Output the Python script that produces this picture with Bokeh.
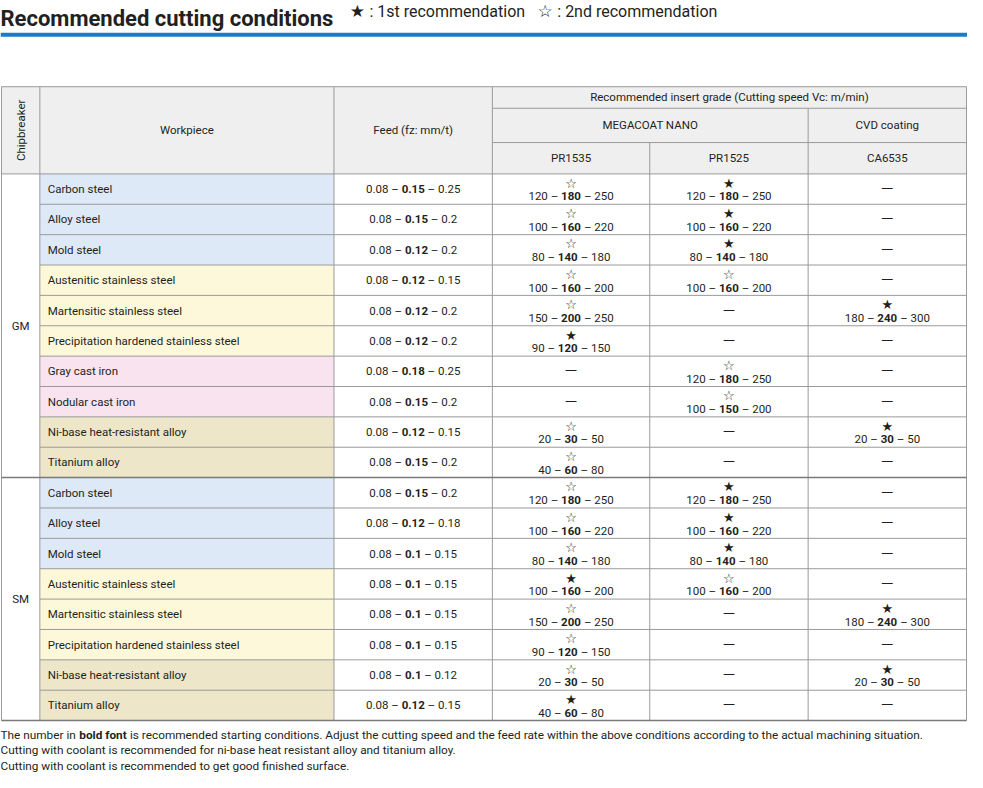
import math
from bokeh.plotting import figure
from bokeh.models import Range1d, ColumnDataSource
from bokeh.core.properties import value
from bokeh.embed import file_html
from bokeh.resources import INLINE

# ---------------- data ----------------
title = "Recommended cutting conditions"
legend_first = ": 1st recommendation"
legend_second = ": 2nd recommendation"
header_top = "Recommended insert grade (Cutting speed Vc: m/min)"
header_chip = "Chipbreaker"
header_work = "Workpiece"
header_feed = "Feed (fz: mm/t)"
grade_families = ["MEGACOAT NANO", "CVD coating"]
family_spans = [2, 1]
grades = ["PR1535", "PR1525", "CA6535"]

chipbreakers = ["GM", "SM"]
chip_counts = [10, 8]

workpieces = [
    "Carbon steel", "Alloy steel", "Mold steel", "Austenitic stainless steel",
    "Martensitic stainless steel", "Precipitation hardened stainless steel",
    "Gray cast iron", "Nodular cast iron", "Ni-base heat-resistant alloy", "Titanium alloy",
    "Carbon steel", "Alloy steel", "Mold steel", "Austenitic stainless steel",
    "Martensitic stainless steel", "Precipitation hardened stainless steel",
    "Ni-base heat-resistant alloy", "Titanium alloy",
]
material_groups = [
    "steel", "steel", "steel", "stainless", "stainless", "stainless",
    "cast", "cast", "heat", "heat",
    "steel", "steel", "steel", "stainless", "stainless", "stainless",
    "heat", "heat",
]

feed_min = [0.08] * 18
feed_rec = [0.15, 0.15, 0.12, 0.12, 0.12, 0.12, 0.18, 0.15, 0.12, 0.15,
            0.15, 0.12, 0.1, 0.1, 0.1, 0.1, 0.1, 0.12]
feed_max = [0.25, 0.2, 0.2, 0.15, 0.2, 0.2, 0.25, 0.2, 0.15, 0.2,
            0.2, 0.18, 0.15, 0.15, 0.15, 0.15, 0.12, 0.15]

# rank: 1 = first recommendation, 2 = second recommendation, 0 = not listed
pr1535_rank = [2, 2, 2, 2, 2, 1, 0, 0, 2, 2, 2, 2, 2, 1, 2, 2, 2, 1]
pr1535_lo = [120, 100, 80, 100, 150, 90, None, None, 20, 40, 120, 100, 80, 100, 150, 90, 20, 40]
pr1535_mid = [180, 160, 140, 160, 200, 120, None, None, 30, 60, 180, 160, 140, 160, 200, 120, 30, 60]
pr1535_hi = [250, 220, 180, 200, 250, 150, None, None, 50, 80, 250, 220, 180, 200, 250, 150, 50, 80]

pr1525_rank = [1, 1, 1, 2, 0, 0, 2, 2, 0, 0, 1, 1, 1, 2, 0, 0, 0, 0]
pr1525_lo = [120, 100, 80, 100, None, None, 120, 100, None, None, 120, 100, 80, 100, None, None, None, None]
pr1525_mid = [180, 160, 140, 160, None, None, 180, 150, None, None, 180, 160, 140, 160, None, None, None, None]
pr1525_hi = [250, 220, 180, 200, None, None, 250, 200, None, None, 250, 220, 180, 200, None, None, None, None]

ca6535_rank = [0, 0, 0, 0, 1, 0, 0, 0, 1, 0, 0, 0, 0, 0, 1, 0, 1, 0]
ca6535_lo = [None, None, None, None, 180, None, None, None, 20, None, None, None, None, None, 180, None, 20, None]
ca6535_mid = [None, None, None, None, 240, None, None, None, 30, None, None, None, None, None, 240, None, 30, None]
ca6535_hi = [None, None, None, None, 300, None, None, None, 50, None, None, None, None, None, 300, None, 50, None]

notes_pre = "The number in"
notes_bold = "bold font"
notes_post = "is recommended starting conditions. Adjust the cutting speed and the feed rate within the above conditions according to the actual machining situation."
notes = [
    "Cutting with coolant is recommended for ni-base heat resistant alloy and titanium alloy.",
    "Cutting with coolant is recommended to get good finished surface.",
]

# ---------------- style / layout ----------------
W, H = 967, 772
RW, RH = 983, 788
SX = W / RW
FONT = "Roboto"
STARFONT = "DejaVu Sans"
TXT = "#231f20"
GRID = "#9a9a9a"
HEAD_BG = "#efefef"
GROUP_COLORS = {"steel": "#dde9f6", "stainless": "#fdf8d9", "cast": "#f8e3ee", "heat": "#ede6c9"}
COLS = [1, 40, 339, 500, 660, 821, 982]
HROWS = [88, 110, 145, 177]
ROW_H = 31
FS = 11.5
NFS = 11.8


def tw(s, size, bold=False):
    w = 0.0
    for ch in s:
        if ch.isdigit():
            w += 0.5615
        elif ch == " ":
            w += 0.248
        elif ch in ".,:;":
            w += 0.26
        elif ch == "–":
            w += 0.56
        elif ch in "il'!j":
            w += 0.245
        elif ch in "ftr":
            w += 0.345
        elif ch in "()":
            w += 0.34
        elif ch in "-":
            w += 0.27
        elif ch in "mw":
            w += 0.87
        elif ch in "MW":
            w += 0.87
        elif ch.isupper():
            w += 0.62
        else:
            w += 0.55
    if bold:
        w *= 1.03
    return w * size / SX  # in reference-pixel data units


p = figure(width=W, height=H, output_backend="svg", toolbar_location=None,
           x_range=Range1d(0, RW), y_range=Range1d(RH, 0), min_border=0)
p.axis.visible = False
p.grid.visible = False
p.outline_line_color = None
p.background_fill_color = "white"
p.border_fill_color = "white"

texts = {}


def add(x, y, s, align="center", size=FS, bold=False, font=FONT, angle=0.0, color=TXT):
    key = (align, size, bold, font, angle, color)
    d = texts.setdefault(key, {"x": [], "y": [], "t": []})
    d["x"].append(x)
    d["y"].append(y)
    d["t"].append(s)


# title and legend
add(0, 18, title, align="left", size=22, bold=True)
add(355, 11, "★", align="left", size=17, font=STARFONT)
add(375, 11, legend_first, align="left", size=16)
add(546, 11, "☆", align="left", size=17, font=STARFONT)
add(566, 11, legend_second, align="left", size=16)
p.quad(left=[0], right=[RW], top=[33], bottom=[37], fill_color="#1a7bc9", line_color=None)

# header background
p.quad(left=[COLS[0]], right=[COLS[-1]], top=[HROWS[0]], bottom=[HROWS[-1]],
       fill_color=HEAD_BG, line_color=None)

n = len(workpieces)
row_tops = [HROWS[-1] + ROW_H * i for i in range(n)]
bottom = row_tops[-1] + ROW_H

# workpiece backgrounds
p.quad(left=[COLS[1]] * n, right=[COLS[2]] * n, top=row_tops,
       bottom=[t + ROW_H for t in row_tops],
       fill_color=[GROUP_COLORS[g] for g in material_groups], line_color=None)

# grid lines
sx0, sy0, sx1, sy1 = [], [], [], []


def seg(x0, y0, x1, y1):
    sx0.append(x0); sy0.append(y0); sx1.append(x1); sy1.append(y1)


seg(COLS[0], HROWS[0], COLS[-1], HROWS[0])
seg(COLS[3], HROWS[1], COLS[-1], HROWS[1])
seg(COLS[3], HROWS[2], COLS[-1], HROWS[2])
seg(COLS[0], HROWS[3], COLS[-1], HROWS[3])
group_starts = [0]
for c in chip_counts[:-1]:
    group_starts.append(group_starts[-1] + c)
for i in range(1, n):
    if i in group_starts:
        continue
    seg(COLS[1], row_tops[i], COLS[-1], row_tops[i])
for x in [COLS[0], COLS[1], COLS[2], COLS[3], COLS[-1]]:
    seg(x, HROWS[0], x, bottom)
seg(COLS[4], HROWS[2], COLS[4], bottom)
seg(COLS[5], HROWS[1], COLS[5], bottom)
p.segment(x0=sx0, y0=sy0, x1=sx1, y1=sy1, line_color=GRID, line_width=1)

# thicker group separators
gx0, gy0, gx1, gy1 = [], [], [], []
for gs in group_starts[1:]:
    gx0.append(COLS[0]); gx1.append(COLS[-1]); gy0.append(row_tops[gs]); gy1.append(row_tops[gs])
gx0.append(COLS[0]); gx1.append(COLS[-1]); gy0.append(bottom); gy1.append(bottom)
p.segment(x0=gx0, y0=gy0, x1=gx1, y1=gy1, line_color="#7a7a7a", line_width=1.5)

# header texts
add((COLS[3] + COLS[-1]) / 2, (HROWS[0] + HROWS[1]) / 2, header_top)
ci = 3
for fam, span in zip(grade_families, family_spans):
    add((COLS[ci] + COLS[ci + span]) / 2, (HROWS[1] + HROWS[2]) / 2, fam)
    ci += span
for k, g in enumerate(grades):
    add((COLS[3 + k] + COLS[4 + k]) / 2, (HROWS[2] + HROWS[3]) / 2, g)
add((COLS[1] + COLS[2]) / 2, (HROWS[0] + HROWS[3]) / 2, header_work)
add((COLS[2] + COLS[3]) / 2, (HROWS[0] + HROWS[3]) / 2, header_feed)
add((COLS[0] + COLS[1]) / 2, (HROWS[0] + HROWS[3]) / 2, header_chip, angle=math.pi / 2)

# chipbreaker labels
for cb, gs, c in zip(chipbreakers, group_starts, chip_counts):
    add((COLS[0] + COLS[1]) / 2, row_tops[gs] + ROW_H * c / 2, cb)

SP = tw(" ", FS)


def triple(xc, y, lo, mid, hi):
    l = f"{lo:g} –"
    b = f"{mid:g}"
    r = f"– {hi:g}"
    wl, wb, wr = tw(l, FS) + SP, tw(b, FS, True), tw(r, FS) + SP
    start = xc - (wl + wb + wr) / 2
    xb = start + wl
    add(xb - SP, y, l, align="right")
    add(xb, y, b, align="left", bold=True)
    add(xb + wb + SP, y, r, align="left")


grade_data = [
    (pr1535_rank, pr1535_lo, pr1535_mid, pr1535_hi),
    (pr1525_rank, pr1525_lo, pr1525_mid, pr1525_hi),
    (ca6535_rank, ca6535_lo, ca6535_mid, ca6535_hi),
]

for i in range(n):
    top = row_tops[i]
    ymid = top + ROW_H / 2
    add(COLS[1] + 8, ymid, workpieces[i], align="left")
    triple((COLS[2] + COLS[3]) / 2, ymid, feed_min[i], feed_rec[i], feed_max[i])
    for k, (rank, lo, mid, hi) in enumerate(grade_data):
        xc = (COLS[3 + k] + COLS[4 + k]) / 2
        if rank[i] == 0:
            add(xc, ymid - 1, "—", size=12, font=STARFONT)
        else:
            add(xc, top + 9.5, "★" if rank[i] == 1 else "☆", size=13, font=STARFONT)
            triple(xc, top + 23, lo[i], mid[i], hi[i])

# notes
ny = bottom + 15
x = 0
add(x, ny, notes_pre, align="left", size=NFS)
x += tw(notes_pre, NFS) + tw(" ", NFS)
add(x, ny, notes_bold, align="left", bold=True, size=NFS)
x += tw(notes_bold, NFS, True) + tw(" ", NFS)
add(x, ny, notes_post, align="left", size=NFS)
for j, s in enumerate(notes):
    add(0, ny + 15.5 * (j + 1), s, align="left", size=NFS)

for (align, size, bold, font, angle, color), d in texts.items():
    src = ColumnDataSource(dict(x=d["x"], y=d["y"], t=d["t"]))
    p.text(x="x", y="y", text="t", source=src, text_align=align, text_baseline="middle",
           text_font_size=f"{size}px", text_font=value(font),
           text_font_style="bold" if bold else "normal", angle=angle, text_color=color)

open("out.html", "w").write(file_html(p, INLINE))
